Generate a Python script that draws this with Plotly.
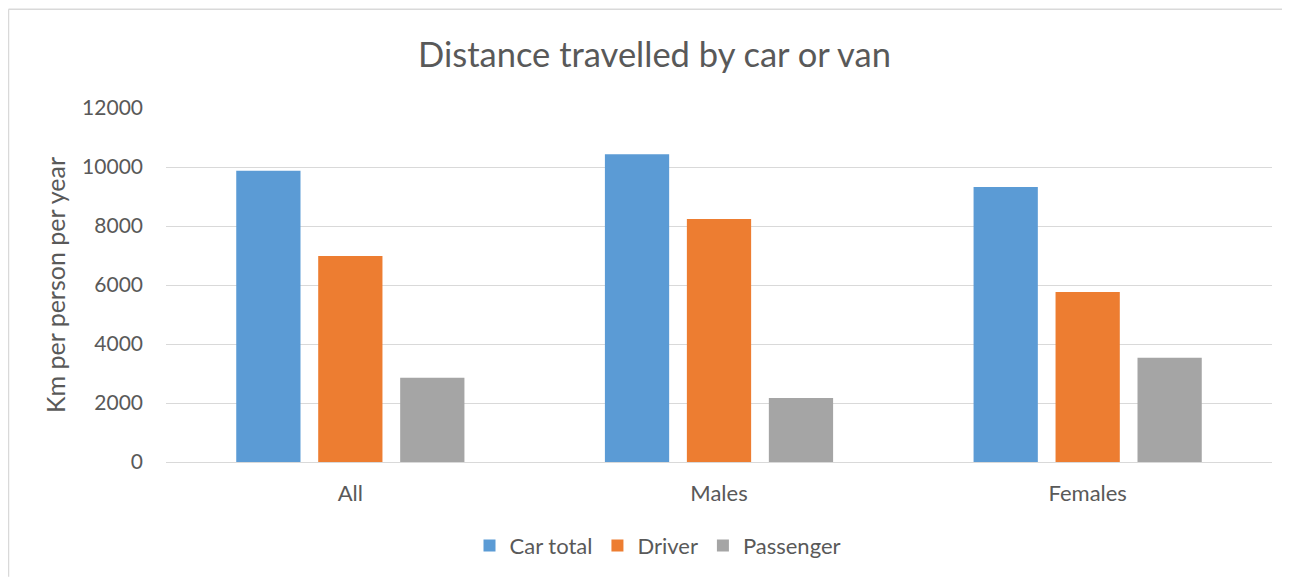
import plotly.graph_objects as go

categories = ["All", "Males", "Females"]
car_total = [9870, 10430, 9320]
driver = [6980, 8240, 5760]
passenger = [2860, 2170, 3530]
series_names = ["Car total", "Driver", "Passenger"]
colors = ["#5B9BD5", "#ED7D31", "#A5A5A5"]
y_ticks = [0, 2000, 4000, 6000, 8000, 10000, 12000]

FONT = "Lato"
TXT = "#595959"
GRID = "#D9D9D9"

# page body has an 8px margin; work in reference pixel coords and shift
OFF = 8
W, H = 1290 - OFF, 577 - OFF
PL, PR, PT, PB = 166, 1272, 108.3, 462.3  # plot area in reference px
L, R, T, B = PL - OFF, W - (PR - OFF), PT - OFF, H - (PB - OFF)
pw, ph = W - L - R, H - T - B

def px_x(px):
    return (px - OFF - L) / pw

def px_y(py):
    return (H - B - (py - OFF)) / ph

fig = go.Figure()
for name, vals, col in zip(series_names, [car_total, driver, passenger], colors):
    fig.add_trace(go.Bar(x=categories, y=vals, name=name,
                         marker=dict(color=col, line=dict(width=0))))

fig.update_layout(
    width=W, height=H,
    margin=dict(l=L, r=R, t=T, b=B, autoexpand=False),
    paper_bgcolor="white", plot_bgcolor="white",
    font=dict(family=FONT, color=TXT, size=21),
    barmode="group", bargap=0.333, bargroupgap=0.216,
    title=dict(text="Distance travelled by car or van", x=(654.5 - OFF) / W, xanchor="center",
               y=1 - (55 - OFF) / H, yanchor="middle",
               font=dict(family=FONT, size=34.5, color=TXT)),
    legend=dict(orientation="h", x=px_x(658), xanchor="center", y=px_y(546), yanchor="middle",
                font=dict(family=FONT, size=22, color=TXT), traceorder="normal",
                itemwidth=30, bgcolor="rgba(0,0,0,0)"),
    showlegend=True,
)
fig.update_xaxes(showgrid=False, showline=True, linecolor=GRID, linewidth=1,
                 ticks="", ticklabelstandoff=12,
                 tickfont=dict(family=FONT, size=22, color=TXT))
fig.update_yaxes(range=[0, 12000], tickvals=y_ticks, tickformat="d",
                 showgrid=True, gridcolor=GRID, gridwidth=1, zeroline=False,
                 showline=False, ticks="", ticklabelstandoff=22,
                 tickfont=dict(family=FONT, size=21, color=TXT),
                 title=dict(text="Km per person per year", standoff=9,
                            font=dict(family=FONT, size=25, color=TXT)))

# chart border (top and left visible)
fig.add_shape(type="line", xref="paper", yref="paper",
              x0=px_x(8.5), x1=px_x(1290), y0=px_y(9.5), y1=px_y(9.5),
              line=dict(color=GRID, width=1.5))
fig.add_shape(type="line", xref="paper", yref="paper",
              x0=px_x(8.5), x1=px_x(8.5), y0=px_y(9.5), y1=px_y(577),
              line=dict(color=GRID, width=1.5))

fig.write_html("out.html")
